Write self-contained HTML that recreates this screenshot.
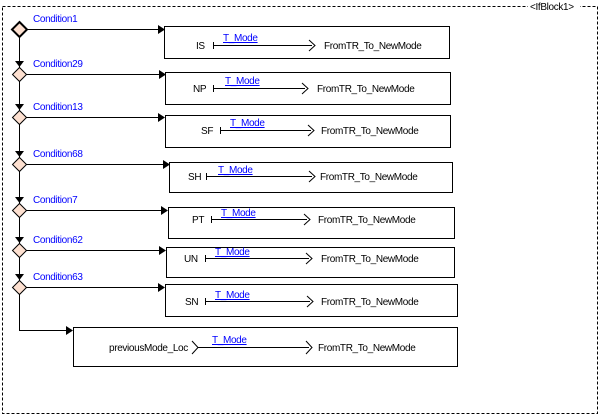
<!DOCTYPE html>
<html><head><meta charset="utf-8"><style>
html,body{margin:0;padding:0;background:#fff;width:601px;height:416px;overflow:hidden}
svg{display:block}
text{font-family:"Liberation Sans",Arial,sans-serif;font-size:10px;letter-spacing:-0.35px}
.c{fill:#0000ff}
.b{fill:#000}
</style></head><body>
<svg width="601" height="416" viewBox="0 0 601 416" xmlns="http://www.w3.org/2000/svg">
<rect x="2.5" y="6.5" width="595" height="407" fill="none" stroke="#000" stroke-dasharray="3,2"/>
<rect x="528" y="1" width="52" height="10" fill="#fff"/>
<text x="530" y="10" class="b" font-size="9">&lt;IfBlock1&gt;</text>

<line x1="19.5" y1="29" x2="19.5" y2="330.5" stroke="#000"/>
<line x1="19" y1="330.5" x2="70" y2="330.5" stroke="#000"/>
<polygon points="66,326 73,330.5 66,335" fill="#000"/>

<g stroke="#000" fill="none">
<line x1="19" y1="29.5" x2="162" y2="29.5"/>
<line x1="19" y1="74.5" x2="162" y2="74.5"/>
<line x1="19" y1="117.5" x2="162" y2="117.5"/>
<line x1="19" y1="164.5" x2="166" y2="164.5"/>
<line x1="19" y1="210.5" x2="164" y2="210.5"/>
<line x1="19" y1="250.5" x2="162" y2="250.5"/>
<line x1="19" y1="287.5" x2="162" y2="287.5"/>
</g>
<g fill="#000">
<polygon points="158,25 165,29.5 158,34"/>
<polygon points="159,70 166,74.5 159,79"/>
<polygon points="158,113 165,117.5 158,122"/>
<polygon points="163,160 170,164.5 163,169"/>
<polygon points="161,206 168,210.5 161,215"/>
<polygon points="159,246 166,250.5 159,255"/>
<polygon points="158,283 165,287.5 158,292"/>
<polygon points="15,61 24,61 19.5,67"/>
<polygon points="15,104 24,104 19.5,110"/>
<polygon points="15,151 24,151 19.5,157"/>
<polygon points="15,197 24,197 19.5,203"/>
<polygon points="15,237 24,237 19.5,243"/>
<polygon points="15,274 24,274 19.5,280"/>
</g>
<polygon points="19.5,22 27,29.5 19.5,37 12,29.5" fill="#fde0d0" stroke="#000" stroke-width="2"/>
<g fill="#fde0d0" stroke="#000">
<polygon points="19.5,67.5 26.5,74.5 19.5,81.5 12.5,74.5"/>
<polygon points="19.5,110.5 26.5,117.5 19.5,124.5 12.5,117.5"/>
<polygon points="19.5,157.5 26.5,164.5 19.5,171.5 12.5,164.5"/>
<polygon points="19.5,203.5 26.5,210.5 19.5,217.5 12.5,210.5"/>
<polygon points="19.5,243.5 26.5,250.5 19.5,257.5 12.5,250.5"/>
<polygon points="19.5,280.5 26.5,287.5 19.5,294.5 12.5,287.5"/>
</g>
<g class="c">
<text x="33" y="22">Condition1</text>
<text x="33" y="67">Condition29</text>
<text x="33" y="110">Condition13</text>
<text x="33" y="157">Condition68</text>
<text x="33" y="203">Condition7</text>
<text x="33" y="243">Condition62</text>
<text x="33" y="280">Condition63</text>
</g>

<g fill="#fff" stroke="#000">
<rect x="164.5" y="26.5" width="285" height="32"/>
<rect x="165.5" y="72.5" width="285" height="32"/>
<rect x="165.5" y="115.5" width="285" height="32"/>
<rect x="169.5" y="162.5" width="283" height="30"/>
<rect x="168.5" y="207.5" width="286" height="31"/>
<rect x="166.5" y="247.5" width="288" height="30"/>
<rect x="165.5" y="284.5" width="292" height="32"/>
<rect x="73.5" y="327.5" width="384" height="39"/>
</g>

<g stroke="#000" fill="none">
<path d="M213.5,42v7M213,45.5h99M309,40l6,5.5l-6,5.5"/>
<path d="M213.5,85v7M213,88.5h92M302,83l6,5.5l-6,5.5"/>
<path d="M220.5,127v7M220,130.5h91M308,125l6,5.5l-6,5.5"/>
<path d="M206.5,173v7M206,176.5h106M309,171l6,5.5l-6,5.5"/>
<path d="M211.5,216v7M211,219.5h96M304,214l6,5.5l-6,5.5"/>
<path d="M205.5,255v7M205,258.5h104M306,253l6,5.5l-6,5.5"/>
<path d="M205.5,298v7M205,301.5h105M307,296l6,5.5l-6,5.5"/>
<path d="M192,341l6,6.5l-6,6.5M198,347.5h111M306,341l6,6.5l-6,6.5"/>
</g>
<g class="b">
<text x="196" y="49">IS</text>
<text x="193" y="92">NP</text>
<text x="201" y="134">SF</text>
<text x="188" y="180">SH</text>
<text x="192" y="223">PT</text>
<text x="184" y="262">UN</text>
<text x="185" y="305">SN</text>
<text x="109" y="351">previousMode_Loc</text>
<text x="324" y="49">FromTR_To_NewMode</text>
<text x="317" y="92">FromTR_To_NewMode</text>
<text x="321" y="134">FromTR_To_NewMode</text>
<text x="320" y="180">FromTR_To_NewMode</text>
<text x="318" y="223">FromTR_To_NewMode</text>
<text x="321" y="262">FromTR_To_NewMode</text>
<text x="321" y="305">FromTR_To_NewMode</text>
<text x="318" y="351">FromTR_To_NewMode</text>
</g>
<g class="c">
<text x="223" y="41" text-decoration="underline">T_Mode</text>
<text x="225" y="84" text-decoration="underline">T_Mode</text>
<text x="230" y="126" text-decoration="underline">T_Mode</text>
<text x="218" y="173" text-decoration="underline">T_Mode</text>
<text x="221" y="216" text-decoration="underline">T_Mode</text>
<text x="215" y="255" text-decoration="underline">T_Mode</text>
<text x="215" y="298" text-decoration="underline">T_Mode</text>
<text x="212" y="343" text-decoration="underline">T_Mode</text>
</g>
</svg>
</body></html>
